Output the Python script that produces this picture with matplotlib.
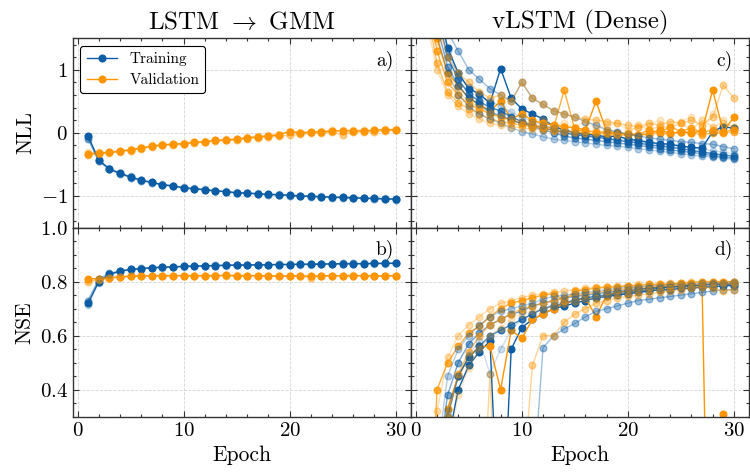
import numpy as np
import matplotlib
matplotlib.use("Agg")
import matplotlib.pyplot as plt
from matplotlib.ticker import MultipleLocator

plt.rcParams["font.family"] = "serif"
plt.rcParams["font.serif"] = ["cmr10"]
plt.rcParams["mathtext.fontset"] = "cm"
plt.rcParams["axes.formatter.use_mathtext"] = True
plt.rcParams["axes.unicode_minus"] = True

BLUE = "#0C5DA5"
ORANGE = "#FF9500"

epochs = np.arange(1, 31)

# --- LSTM -> GMM (left column), three runs each ---
gmm_nll_train = [
    [-0.05, -0.43, -0.57, -0.64, -0.70, -0.75, -0.785, -0.82, -0.84, -0.87,
     -0.885, -0.90, -0.92, -0.93, -0.95, -0.955, -0.965, -0.975, -0.98, -0.99,
     -1.00, -1.005, -1.01, -1.02, -1.02, -1.03, -1.035, -1.04, -1.045, -1.05],
    [-0.10, -0.45, -0.58, -0.65, -0.71, -0.76, -0.79, -0.83, -0.85, -0.875,
     -0.89, -0.905, -0.925, -0.935, -0.955, -0.96, -0.97, -0.98, -0.985, -0.995,
     -1.005, -1.01, -1.015, -1.025, -1.03, -1.035, -1.04, -1.045, -1.05, -1.06],
    [-0.08, -0.44, -0.56, -0.63, -0.69, -0.74, -0.78, -0.815, -0.835, -0.865,
     -0.88, -0.895, -0.915, -0.925, -0.945, -0.95, -0.96, -0.97, -0.975, -0.985,
     -0.995, -1.00, -1.005, -1.015, -1.015, -1.025, -1.03, -1.035, -1.04, -1.045],
]
gmm_nll_val = [
    [-0.33, -0.32, -0.31, -0.29, -0.27, -0.24, -0.21, -0.19, -0.18, -0.17,
     -0.15, -0.14, -0.12, -0.11, -0.10, -0.08, -0.06, -0.05, -0.03, 0.02,
     0.00, 0.01, 0.02, 0.03, 0.03, 0.03, 0.03, 0.04, 0.05, 0.05],
    [-0.35, -0.34, -0.32, -0.30, -0.28, -0.25, -0.22, -0.20, -0.19, -0.18,
     -0.16, -0.15, -0.13, -0.12, -0.11, -0.09, -0.08, -0.06, -0.05, -0.04,
     -0.02, -0.01, 0.00, 0.01, -0.03, 0.02, 0.01, 0.02, 0.03, 0.04],
    [-0.31, -0.31, -0.30, -0.28, -0.26, -0.23, -0.20, -0.18, -0.17, -0.16,
     -0.14, -0.13, -0.11, -0.10, -0.09, -0.07, -0.05, -0.04, -0.02, 0.03,
     0.01, 0.02, 0.03, 0.04, 0.04, 0.05, 0.04, 0.05, 0.06, 0.06],
]
gmm_nse_train = [
    [0.72, 0.80, 0.827, 0.838, 0.845, 0.848, 0.851, 0.853, 0.854, 0.856,
     0.857, 0.858, 0.859, 0.860, 0.861, 0.861, 0.862, 0.862, 0.863, 0.863,
     0.864, 0.864, 0.865, 0.865, 0.866, 0.866, 0.866, 0.867, 0.867, 0.868],
    [0.73, 0.81, 0.830, 0.840, 0.846, 0.849, 0.852, 0.854, 0.855, 0.857,
     0.858, 0.859, 0.860, 0.861, 0.862, 0.862, 0.863, 0.863, 0.864, 0.864,
     0.865, 0.865, 0.866, 0.866, 0.867, 0.867, 0.867, 0.868, 0.868, 0.869],
    [0.715, 0.795, 0.825, 0.836, 0.843, 0.847, 0.850, 0.852, 0.853, 0.855,
     0.856, 0.857, 0.858, 0.859, 0.860, 0.860, 0.861, 0.861, 0.862, 0.862,
     0.863, 0.863, 0.864, 0.864, 0.865, 0.865, 0.865, 0.866, 0.866, 0.867],
]
gmm_nse_val = [
    [0.811, 0.810, 0.815, 0.818, 0.820, 0.821, 0.822, 0.822, 0.822, 0.822,
     0.822, 0.822, 0.822, 0.823, 0.822, 0.822, 0.822, 0.821, 0.821, 0.821,
     0.821, 0.820, 0.821, 0.822, 0.822, 0.822, 0.822, 0.821, 0.821, 0.822],
    [0.800, 0.806, 0.812, 0.816, 0.819, 0.820, 0.821, 0.821, 0.821, 0.821,
     0.821, 0.821, 0.821, 0.822, 0.821, 0.821, 0.821, 0.820, 0.820, 0.820,
     0.820, 0.815, 0.820, 0.821, 0.821, 0.821, 0.821, 0.820, 0.820, 0.821],
    [0.805, 0.808, 0.813, 0.817, 0.819, 0.821, 0.821, 0.822, 0.822, 0.822,
     0.822, 0.822, 0.823, 0.823, 0.823, 0.822, 0.822, 0.822, 0.821, 0.821,
     0.821, 0.821, 0.821, 0.822, 0.822, 0.823, 0.822, 0.822, 0.822, 0.822],
]
gmm_alphas = [1.0, 0.45, 0.2]

# --- vLSTM (Dense) (right column), six runs each ---
dense_nll_train = [
    [3.2, 2.1, 1.35, 0.95, 0.70, 0.62, 0.47, 1.02, 0.55, 0.38,
     0.30, 0.22, 0.10, 0.05, 0.00, -0.02, -0.04, -0.06, -0.05, -0.10,
     -0.12, -0.15, -0.17, -0.18, -0.21, -0.23, -0.24, 0.02, 0.10, 0.07],
    [3.0, 1.9, 1.20, 0.85, 0.62, 0.50, 0.40, 0.35, 0.25, 0.18,
     0.12, 0.08, 0.04, 0.00, -0.03, -0.05, -0.07, -0.09, -0.12, -0.14,
     -0.16, -0.19, -0.21, -0.23, -0.25, -0.28, -0.30, -0.33, -0.35, -0.37],
    [2.8, 1.7, 1.05, 0.75, 0.55, 0.45, 0.32, 0.28, 0.20, 0.15,
     0.10, 0.05, 0.00, -0.05, -0.08, -0.10, -0.12, -0.14, -0.16, -0.18,
     -0.20, -0.22, -0.25, -0.27, -0.29, -0.31, -0.33, -0.36, -0.38, -0.40],
    [3.5, 2.4, 1.60, 1.30, 1.00, 0.85, 0.70, 0.60, 0.50, 0.80,
     0.55, 0.45, 0.35, 0.30, 0.25, 0.18, 0.12, 0.05, 0.02, -0.02,
     -0.05, -0.08, -0.10, -0.12, -0.14, -0.15, -0.17, -0.18, -0.22, -0.25],
    [2.6, 1.55, 0.95, 0.60, 0.42, 0.30, 0.22, 0.15, 0.08, 0.02,
     -0.02, -0.06, -0.10, -0.12, -0.14, -0.16, -0.18, -0.20, -0.21, -0.23,
     -0.25, -0.27, -0.29, -0.31, -0.33, -0.35, -0.37, -0.38, -0.40, -0.42],
    [3.0, 2.0, 1.30, 0.90, 0.72, 0.58, 0.50, 0.42, 0.33, 0.25,
     0.18, 0.12, 0.07, 0.02, -0.01, -0.04, -0.06, -0.08, -0.10, -0.12,
     -0.14, -0.16, -0.18, -0.20, -0.22, -0.24, -0.26, -0.28, -0.31, -0.33],
]
dense_nll_val = [
    [2.5, 1.5, 0.95, 0.75, 0.55, 0.45, 0.35, 0.50, 0.22, 0.30,
     0.20, 0.15, 0.12, 0.10, 0.08, 0.05, 0.50, 0.02, 0.00, -0.02,
     -0.03, -0.02, 0.05, -0.01, 0.02, 0.00, 0.03, 0.68, 0.02, 0.25],
    [2.2, 1.3, 0.80, 0.60, 0.45, 0.38, 0.30, 0.25, 0.20, 0.15,
     0.12, 0.10, 0.08, 0.68, 0.05, 0.03, 0.02, 0.00, -0.01, -0.02,
     -0.03, 0.05, 0.00, 0.10, 0.02, 0.08, 0.00, 0.05, 0.02, 0.05],
    [2.0, 1.1, 0.65, 0.48, 0.38, 0.30, 0.22, 0.18, 0.15, 0.12,
     0.10, 0.08, 0.05, 0.03, 0.02, 0.00, -0.01, -0.02, -0.03, -0.04,
     -0.03, -0.02, 0.00, -0.02, 0.02, 0.00, -0.03, 0.00, 0.00, 0.02],
    [2.8, 1.8, 1.20, 0.95, 0.80, 0.65, 0.55, 0.60, 0.50, 0.80,
     0.55, 0.45, 0.35, 0.30, 0.25, 0.22, 0.20, 0.18, 0.15, 0.12,
     0.10, 0.15, 0.12, 0.18, 0.15, 0.20, 0.12, 0.25, 0.76, 0.55],
    [1.8, 1.0, 0.60, 0.42, 0.30, 0.22, 0.15, 0.12, 0.10, 0.08,
     0.06, 0.05, 0.03, 0.02, 0.00, 0.00, -0.02, 0.05, -0.02, 0.00,
     0.12, 0.05, 0.10, 0.08, 0.15, 0.05, 0.20, 0.10, 0.15, 0.10],
    [2.4, 1.45, 0.90, 0.65, 0.50, 0.40, 0.32, 0.26, 0.22, 0.18,
     0.15, 0.20, 0.12, 0.15, 0.10, 0.18, 0.08, 0.12, 0.15, 0.05,
     0.08, 0.12, 0.20, 0.10, 0.18, 0.25, 0.10, 0.30, 0.20, 0.05],
]
dense_nse_train = [
    [-1.5, -0.3, 0.20, 0.40, 0.49, 0.54, 0.58, -0.30, 0.55, 0.63,
     0.66, 0.68, 0.70, 0.71, 0.72, 0.73, 0.74, 0.745, 0.75, 0.755,
     0.76, 0.765, 0.77, 0.77, 0.775, 0.775, 0.78, 0.78, 0.785, 0.785],
    [-1.0, 0.0, 0.30, 0.45, 0.52, 0.56, 0.60, 0.62, 0.64, 0.66,
     0.68, 0.70, 0.71, 0.72, 0.73, 0.74, 0.745, 0.75, 0.755, 0.76,
     0.765, 0.77, 0.775, 0.78, 0.78, 0.785, 0.785, 0.79, 0.79, 0.79],
    [-0.8, 0.10, 0.38, 0.50, 0.57, 0.61, 0.64, 0.66, 0.68, 0.69,
     0.71, 0.72, 0.73, 0.74, 0.745, 0.75, 0.755, 0.76, 0.765, 0.77,
     0.775, 0.775, 0.78, 0.78, 0.785, 0.785, 0.79, 0.79, 0.79, 0.795],
    [-3.0, -2.0, -1.2, -0.6, -0.3, -0.1, 0.05, 0.10, 0.05, -0.2,
     0.0, 0.555, 0.60, 0.625, 0.645, 0.67, 0.69, 0.70, 0.71, 0.72,
     0.73, 0.735, 0.74, 0.745, 0.75, 0.755, 0.76, 0.765, 0.77, 0.77],
    [-0.5, 0.15, 0.45, 0.55, 0.60, 0.64, 0.67, 0.69, 0.70, 0.71,
     0.72, 0.735, 0.745, 0.75, 0.755, 0.76, 0.765, 0.77, 0.775, 0.78,
     0.78, 0.785, 0.785, 0.79, 0.79, 0.79, 0.795, 0.795, 0.795, 0.80],
    [-1.2, -0.2, 0.32, 0.45, 0.53, 0.58, 0.46, 0.55, 0.62, 0.66,
     0.68, 0.70, 0.715, 0.725, 0.735, 0.74, 0.75, 0.755, 0.76, 0.765,
     0.77, 0.775, 0.775, 0.78, 0.78, 0.785, 0.785, 0.79, 0.79, 0.79],
]
dense_nse_val = [
    [-1.0, 0.05, 0.33, 0.45, 0.52, 0.56, 0.56, 0.40, 0.62, 0.59,
     0.66, 0.68, 0.70, 0.72, 0.73, 0.74, 0.67, 0.75, 0.76, 0.765,
     0.77, 0.775, 0.78, 0.78, 0.785, 0.785, 0.785, -1.2, 0.31, -1.0],
    [-0.5, 0.40, 0.50, 0.56, 0.61, 0.635, 0.67, 0.70, 0.72, 0.73,
     0.74, 0.75, 0.755, 0.73, 0.765, 0.77, 0.775, 0.78, 0.78, 0.785,
     0.785, 0.79, 0.79, 0.79, 0.795, 0.795, 0.80, 0.80, 0.80, 0.80],
    [-1.5, -0.2, 0.30, 0.46, 0.54, 0.60, 0.64, 0.66, 0.68, 0.70,
     0.71, 0.72, 0.73, 0.74, 0.75, 0.755, 0.76, 0.765, 0.77, 0.775,
     0.78, 0.78, 0.785, 0.785, 0.79, 0.79, 0.79, 0.795, 0.795, 0.795],
    [-3.0, -2.2, -1.5, -1.0, -0.6, -0.3, 0.46, -0.5, -0.2, 0.0,
     0.49, 0.60, 0.60, 0.65, 0.68, 0.70, 0.72, 0.73, 0.74, 0.745,
     0.75, 0.755, 0.76, 0.765, 0.77, 0.775, 0.78, 0.775, 0.765, 0.77],
    [-0.3, 0.32, 0.52, 0.60, 0.64, 0.67, 0.70, 0.72, 0.73, 0.74,
     0.75, 0.755, 0.76, 0.765, 0.77, 0.775, 0.78, 0.78, 0.785, 0.785,
     0.79, 0.79, 0.79, 0.795, 0.795, 0.80, 0.80, 0.80, 0.80, 0.80],
    [-2.0, -0.8, 0.15, 0.38, 0.48, 0.55, 0.60, 0.63, 0.66, 0.68,
     0.69, 0.70, 0.71, 0.72, 0.73, 0.735, 0.74, 0.75, 0.755, 0.76,
     0.765, 0.77, 0.77, 0.775, 0.78, 0.78, 0.785, 0.785, 0.79, 0.79],
]
dense_alphas = [1.0, 0.75, 0.55, 0.4, 0.3, 0.2]

col_titles = [r"LSTM $\rightarrow$ GMM", "vLSTM (Dense)"]
panel_tags = [["a)", "c)"], ["b)", "d)"]]

LW = 1.0
MS = 4.8


def draw_runs(ax, train_runs, val_runs, alphas):
    for tr, va, a in zip(train_runs, val_runs, alphas):
        ax.plot(epochs, tr, "-o", color=BLUE, alpha=a, lw=LW, ms=MS)
        ax.plot(epochs, va, "-o", color=ORANGE, alpha=a, lw=LW, ms=MS)


fig, axes = plt.subplots(2, 2, figsize=(7.5, 4.72), dpi=100,
                         sharex=True, sharey="row")
fig.subplots_adjust(left=0.097, right=0.999, top=0.919, bottom=0.117,
                    wspace=0, hspace=0)

draw_runs(axes[0, 0], gmm_nll_train, gmm_nll_val, gmm_alphas)
draw_runs(axes[1, 0], gmm_nse_train, gmm_nse_val, gmm_alphas)
draw_runs(axes[0, 1], dense_nll_train, dense_nll_val, dense_alphas)
draw_runs(axes[1, 1], dense_nse_train, dense_nse_val, dense_alphas)

for ax in axes.flat:
    ax.set_xlim(-0.45, 31.45)
    ax.xaxis.set_major_locator(MultipleLocator(10))
    ax.xaxis.set_minor_locator(MultipleLocator(2))
    ax.tick_params(which="both", direction="in", top=True, right=True,
                   labelsize=15, width=0.8, color="#333333")
    ax.tick_params(which="major", length=4.5)
    ax.tick_params(which="minor", length=2.5)
    ax.grid(True, which="major", ls="--", lw=0.6, color="#d5d5d5")
    for s in ax.spines.values():
        s.set_linewidth(1.0)
        s.set_color("#333333")

for ax in axes[0]:
    ax.set_ylim(-1.5, 1.5)
    ax.yaxis.set_major_locator(MultipleLocator(1))
    ax.yaxis.set_minor_locator(MultipleLocator(0.2))
for ax in axes[1]:
    ax.set_ylim(0.3, 1.0)
    ax.yaxis.set_major_locator(MultipleLocator(0.2))
    ax.yaxis.set_minor_locator(MultipleLocator(0.05))
    ax.set_xlabel("Epoch", fontsize=15.5)

axes[0, 0].set_ylabel("NLL", fontsize=15.5)
axes[1, 0].set_ylabel("NSE", fontsize=15.5)

for j, t in enumerate(col_titles):
    axes[0, j].set_title(t, fontsize=18, pad=7)

for i in range(2):
    for j in range(2):
        axes[i, j].text(0.95, 0.935, panel_tags[i][j], transform=axes[i, j].transAxes,
                        ha="right", va="top", fontsize=14)

h1, = axes[0, 0].plot([], [], "-o", color=BLUE, lw=LW, ms=MS, label="Training")
h2, = axes[0, 0].plot([], [], "-o", color=ORANGE, lw=LW, ms=MS, label="Validation")
leg = axes[0, 0].legend(handles=[h1, h2], loc="upper left", fontsize=11,
                        frameon=True, fancybox=True, edgecolor="black",
                        framealpha=1, borderaxespad=0.5)
leg.get_frame().set_linewidth(0.8)

plt.savefig("out.png", dpi=100)
